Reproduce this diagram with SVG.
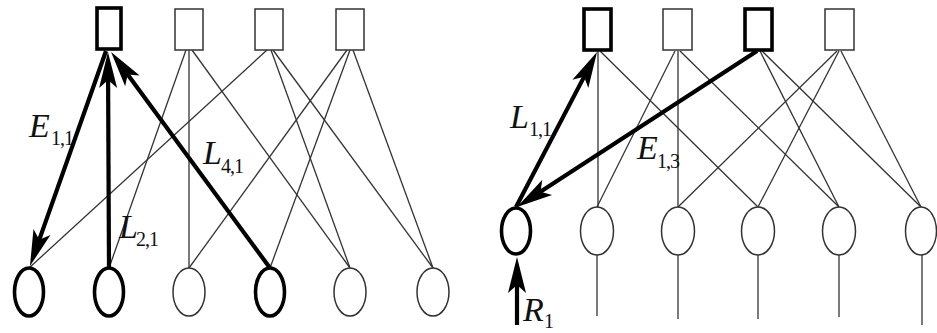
<svg xmlns="http://www.w3.org/2000/svg" width="937" height="333" viewBox="0 0 937 333">
<style>
.bg{fill:#fff}
.thin{fill:#fff;stroke:#333;stroke-width:1.5}
.thick{fill:#fff;stroke:#000;stroke-width:3.6}
.e{stroke:#333;stroke-width:1.3;fill:none}
.a{stroke:#000;stroke-width:4.2;fill:none;marker-end:url(#ah)}
.lbl{font-family:"Liberation Serif","DejaVu Serif",serif;fill:#111}
.it{font-style:italic;font-size:34px}
.sub{font-size:20px;letter-spacing:-1px}
</style>
<defs>
<marker id="ah" markerUnits="userSpaceOnUse" viewBox="-28 -10 40 20" refX="0" refY="0" markerWidth="40" markerHeight="20" orient="auto">
<path d="M10,0 L-26,-9 L-18,0 L-26,9 Z" fill="#000"/>
</marker>
</defs>
<rect class="bg" x="0" y="0" width="937" height="333"/>
<g id="connectors">
<!-- left graph thin edges -->
<line class="e" x1="186" y1="50" x2="109" y2="268"/>
<line class="e" x1="189" y1="50" x2="189" y2="268"/>
<line class="e" x1="192" y1="50" x2="350" y2="268"/>
<line class="e" x1="267" y1="50" x2="29" y2="268"/>
<line class="e" x1="271" y1="50" x2="350" y2="268"/>
<line class="e" x1="273" y1="50" x2="433" y2="268"/>
<line class="e" x1="347" y1="50" x2="189" y2="268"/>
<line class="e" x1="350" y1="50" x2="270" y2="268"/>
<line class="e" x1="353" y1="50" x2="433" y2="268"/>
<!-- left graph thick arrows -->
<line class="a" x1="106" y1="51" x2="33.3" y2="256.6"/>
<line class="a" x1="109" y1="268" x2="108" y2="62"/>
<line class="a" x1="270" y1="268" x2="117" y2="60"/>
<!-- right graph thin edges -->
<line class="e" x1="598" y1="51" x2="598" y2="207"/>
<line class="e" x1="600" y1="51" x2="758" y2="207"/>
<line class="e" x1="675" y1="51" x2="597" y2="207"/>
<line class="e" x1="678" y1="51" x2="678" y2="207"/>
<line class="e" x1="680" y1="51" x2="839" y2="207"/>
<line class="e" x1="760" y1="51" x2="839" y2="207"/>
<line class="e" x1="762" y1="51" x2="921" y2="207"/>
<line class="e" x1="837" y1="51" x2="678" y2="207"/>
<line class="e" x1="839" y1="51" x2="758" y2="207"/>
<line class="e" x1="841" y1="51" x2="921" y2="207"/>
<!-- right graph lines below variable nodes -->
<line class="e" x1="597" y1="255" x2="597" y2="316"/>
<line class="e" x1="678" y1="255" x2="678" y2="319"/>
<line class="e" x1="758" y1="255" x2="758" y2="319"/>
<line class="e" x1="839" y1="255" x2="839" y2="317"/>
<line class="e" x1="922" y1="255" x2="922" y2="325"/>
<!-- right graph thick arrows -->
<line class="a" x1="516" y1="207" x2="592.4" y2="60.9"/>
<line class="a" x1="757" y1="51" x2="525.4" y2="201.5"/>
<line class="a" x1="517" y1="325" x2="517" y2="267"/>
</g>
<!-- left graph check nodes -->
<g id="L_S1"><rect class="thick" x="97" y="8" width="24" height="41"/></g>
<g id="L_S2"><rect class="thin" x="175" y="9" width="28" height="41"/></g>
<g id="L_S3"><rect class="thin" x="255" y="9" width="28" height="41"/></g>
<g id="L_S4"><rect class="thin" x="336" y="9" width="28" height="41"/></g>
<!-- left graph variable nodes -->
<g id="L_C1"><ellipse class="thick" cx="29" cy="292" rx="14.5" ry="24"/></g>
<g id="L_C2"><ellipse class="thick" cx="109" cy="292" rx="14.5" ry="24"/></g>
<g id="L_C3"><ellipse class="thin" cx="189" cy="292" rx="16" ry="24"/></g>
<g id="L_C4"><ellipse class="thick" cx="270" cy="292" rx="14.5" ry="24"/></g>
<g id="L_C5"><ellipse class="thin" cx="350" cy="292" rx="16" ry="24"/></g>
<g id="L_C6"><ellipse class="thin" cx="433" cy="292" rx="16" ry="24"/></g>
<!-- right graph check nodes -->
<g id="R_S1"><rect class="thick" x="584" y="9" width="27" height="41"/></g>
<g id="R_S2"><rect class="thin" x="663" y="9" width="29" height="41"/></g>
<g id="R_S3"><rect class="thick" x="745" y="9" width="27" height="41"/></g>
<g id="R_S4"><rect class="thin" x="825" y="9" width="29" height="41"/></g>
<!-- right graph variable nodes -->
<g id="R_C1"><ellipse class="thick" cx="516" cy="231" rx="14.5" ry="23"/></g>
<g id="R_C2"><ellipse class="thin" cx="597" cy="231" rx="16.5" ry="24"/></g>
<g id="R_C3"><ellipse class="thin" cx="678" cy="231" rx="16.5" ry="24"/></g>
<g id="R_C4"><ellipse class="thin" cx="758" cy="231" rx="16.5" ry="24"/></g>
<g id="R_C5"><ellipse class="thin" cx="839" cy="231" rx="16.5" ry="24"/></g>
<g id="R_C6"><ellipse class="thin" cx="921" cy="231" rx="15.5" ry="24"/></g>
<!-- labels -->
<g id="labels">
<text class="lbl" x="29" y="137"><tspan class="it">E</tspan><tspan class="sub" x="51" y="145">1,1</tspan></text>
<text class="lbl" x="203" y="164"><tspan class="it">L</tspan><tspan class="sub" x="221" y="173">4,1</tspan></text>
<text class="lbl" x="119" y="238"><tspan class="it">L</tspan><tspan class="sub" x="136" y="246">2,1</tspan></text>
<text class="lbl" x="510" y="128"><tspan class="it">L</tspan><tspan class="sub" x="529" y="136">1,1</tspan></text>
<text class="lbl" x="637" y="159"><tspan class="it">E</tspan><tspan class="sub" x="657" y="168">1,3</tspan></text>
<text class="lbl" x="523" y="321"><tspan class="it">R</tspan><tspan class="sub" x="544" y="328">1</tspan></text>
</g>
</svg>
